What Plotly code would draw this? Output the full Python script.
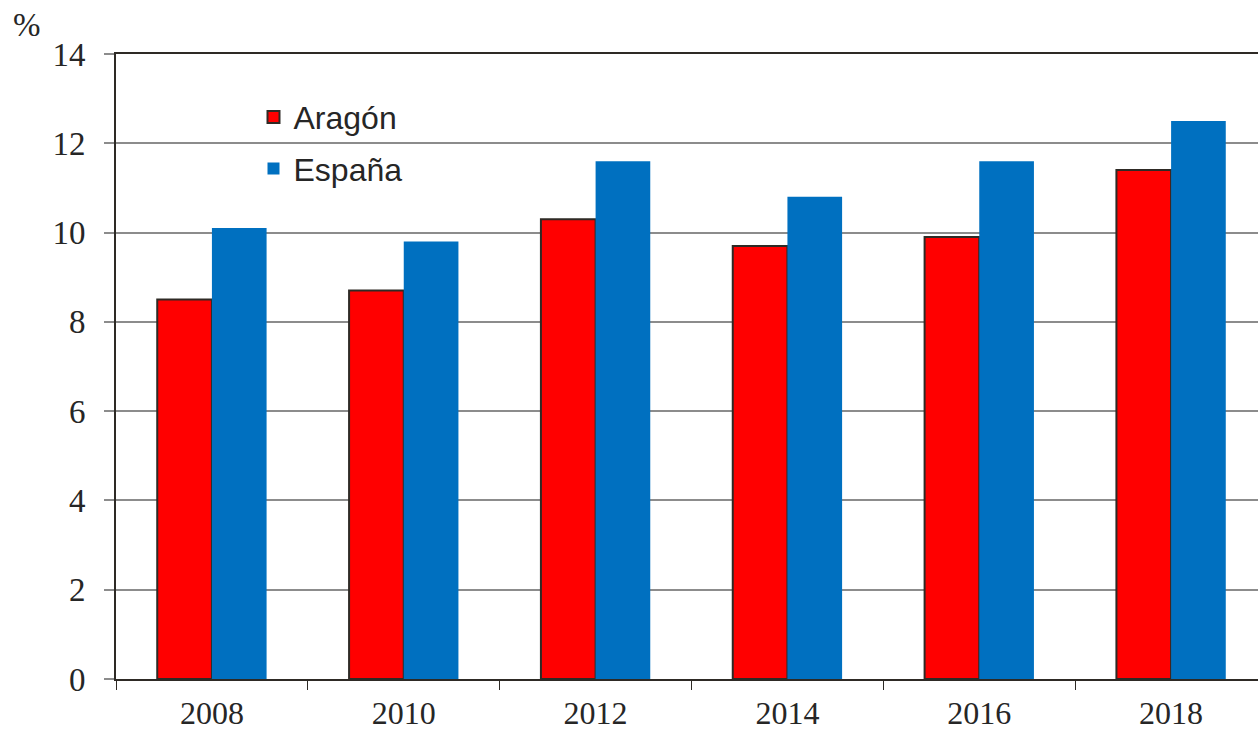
import plotly.graph_objects as go

anios = ["2008", "2010", "2012", "2014", "2016", "2018"]
aragon = [8.5, 8.7, 10.3, 9.7, 9.9, 11.4]
espana = [10.1, 9.8, 11.6, 10.8, 11.6, 12.5]
y_ticks = [0, 2, 4, 6, 8, 10, 12, 14]

texto = "#262626"
serif = "Liberation Serif"
sans = "Liberation Sans"

fig = go.Figure()
fig.add_trace(go.Bar(
    x=anios, y=aragon, name="Aragón", legendgroup="a",
    marker=dict(color="#FF0000", line=dict(color="#2e2a25", width=2)),
))
fig.add_trace(go.Bar(
    x=anios, y=espana, name="España", legendgroup="e",
    marker=dict(color="#0070C0", line=dict(width=0)),
))

# el área del gráfico se corta por la derecha
fig.update_layout(
    width=1258, height=734,
    margin=dict(l=116, r=0, t=54, b=55),
    paper_bgcolor="white", plot_bgcolor="white",
    barmode="group", bargap=0.43, bargroupgap=0,
    showlegend=True,
    legend=dict(
        x=0.1204, y=0.943, xanchor="left", yanchor="top",
        font=dict(family=sans, size=32, color=texto),
        bgcolor="rgba(0,0,0,0)", tracegroupgap=7,
        itemwidth=30,
    ),
    xaxis=dict(
        type="category", range=[-0.5, 5.453], automargin=False,
        showline=True, linecolor="#2e2a25", linewidth=2, mirror=True,
        ticks="outside", tickson="boundaries", ticklen=9, tickcolor="#2e2a25",
        tickwidth=1, showgrid=False, ticklabelstandoff=5,
        tickfont=dict(family=serif, size=32, color=texto),
    ),
    yaxis=dict(
        range=[0, 14], tickvals=y_ticks, automargin=False,
        showline=True, linecolor="#2e2a25", linewidth=2,
        showgrid=True, gridcolor="#8c8c8c", gridwidth=1.5,
        zeroline=False,
        ticks="outside", ticklen=10, tickcolor="#8c8c8c", tickwidth=1.5,
        ticklabelstandoff=12,
        tickfont=dict(family=serif, size=33, color=texto),
    ),
)

fig.add_annotation(
    text="%", xref="paper", yref="paper", x=-0.078, y=1.046,
    xanchor="center", yanchor="middle", showarrow=False,
    font=dict(family=serif, size=33, color=texto),
)

# quitar el margen del body para que la figura ocupe toda la ventana
fig.write_html(
    "out.html",
    config={"displayModeBar": False},
    post_script="document.body.style.margin='0';document.body.style.overflow='hidden';",
)
